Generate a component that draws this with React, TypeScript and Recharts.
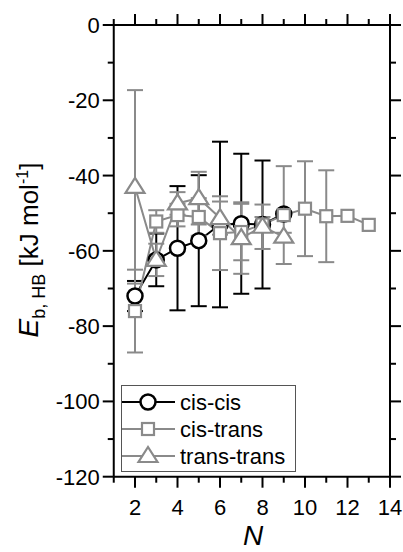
import React from 'react';
import { LineChart, Line, XAxis, YAxis, ErrorBar, Legend } from 'recharts';

const nValues = [2, 3, 4, 5, 6, 7, 8, 9, 10, 11, 12, 13];
const cisCis = [-72, -62.4, -59.3, -57.3, -53, -52.8, -53, -50.2, null, null, null, null];
const cisCisErr = [4, 7, 16.5, 17.4, 22, 18.6, 17, 0, null, null, null, null];
const cisTrans = [-76, -52.2, -50.5, -51, -55.3, -55, -53, -50.5, -48.8, -50.8, -50.7, -53.1];
const cisTransErr = [11, 3, 3, 5, 9.8, 7.5, 2, 13, 12.6, 12.2, 0, 0];
const transTrans = [-43, -62.4, -47.4, -46, -51.3, -56.6, -53.6, -56.2, null, null, null, null];
const transTransErr = [25.7, 4.3, 3, 7, 4.4, 9.5, 5.9, 1, null, null, null, null];

const xMajorTicks = [2, 4, 6, 8, 10, 12, 14];
const xAllTicks = [1, 2, 3, 4, 5, 6, 7, 8, 9, 10, 11, 12, 13, 14];
const yMajorTicks = [-120, -100, -80, -60, -40, -20, 0];
const yAllTicks = [-120, -110, -100, -90, -80, -70, -60, -50, -40, -30, -20, -10, 0];
const seriesNames = ['cis-cis', 'cis-trans', 'trans-trans'];

const data = nValues.map((n, i) => ({
  n,
  cc: cisCis[i],
  ccErr: cisCisErr[i],
  ct: cisTrans[i],
  ctErr: cisTransErr[i],
  tt: transTrans[i],
  ttErr: transTransErr[i],
}));

const BLACK = '#000';
const GRAY = '#8a8a8a';
const FONT = '"Liberation Sans", Arial, sans-serif';
const MAJOR = 11;
const MINOR = 6;

const circleShape = (cx: number, cy: number, key?: any) => (
  <circle key={key} cx={cx} cy={cy} r={7.5} fill="#fff" stroke={BLACK} strokeWidth={2.5} />
);
const squareShape = (cx: number, cy: number, key?: any) => (
  <rect key={key} x={cx - 6} y={cy - 6} width={12} height={12} fill="#fff" stroke={GRAY} strokeWidth={2.2} />
);
const triangleShape = (cx: number, cy: number, key?: any) => (
  <polygon
    key={key}
    points={`${cx},${cy - 9} ${cx - 9.5},${cy + 6} ${cx + 9.5},${cy + 6}`}
    fill="#fff"
    stroke={GRAY}
    strokeWidth={2.2}
  />
);

const makeDot = (shape: (cx: number, cy: number, key?: any) => React.ReactElement) => (props: any) => {
  const { cx, cy, index, value } = props;
  if (cx == null || cy == null || value == null || Number.isNaN(cy)) return <g key={`e${index}`} />;
  return shape(cx, cy, `d${index}`);
};

const BottomTick = (props: any) => {
  const { x, y, payload } = props;
  const major = xMajorTicks.includes(payload.value);
  return (
    <g>
      <line x1={x} y1={y} x2={x} y2={y + (major ? MAJOR : MINOR)} stroke="#000" strokeWidth={2} />
      {major && (
        <text x={x} y={y + 38} textAnchor="middle" fontFamily={FONT} fontSize={22} fill="#000">
          {payload.value}
        </text>
      )}
    </g>
  );
};
const TopTick = (props: any) => {
  const { x, y, payload } = props;
  const major = xMajorTicks.includes(payload.value);
  return <line x1={x} y1={y} x2={x} y2={y - (major ? MAJOR : MINOR)} stroke="#000" strokeWidth={2} />;
};
const LeftTick = (props: any) => {
  const { x, y, payload } = props;
  const major = yMajorTicks.includes(payload.value);
  return (
    <g>
      <line x1={x - (major ? MAJOR : MINOR)} y1={y} x2={x} y2={y} stroke="#000" strokeWidth={2} />
      {major && (
        <text x={x - 14} y={y + 8} textAnchor="end" fontFamily={FONT} fontSize={22} fill="#000">
          {payload.value}
        </text>
      )}
    </g>
  );
};
const RightTick = (props: any) => {
  const { x, y, payload } = props;
  const major = yMajorTicks.includes(payload.value);
  return <line x1={x} y1={y} x2={x + (major ? MAJOR : MINOR)} y2={y} stroke="#000" strokeWidth={2} />;
};

const YLabel = () => (
  <text
    x={38}
    y={250}
    transform="rotate(-90, 38, 250)"
    textAnchor="middle"
    fontFamily={FONT}
    fontSize={26}
    fill="#000"
    style={{ whiteSpace: 'pre' }}
  >
    <tspan fontStyle="italic" fontSize={28}>E</tspan>
    <tspan fontSize={18} dy={7}>b, HB</tspan>
    <tspan dy={-7}> [kJ mol</tspan>
    <tspan fontSize={16} dy={-10}>-1</tspan>
    <tspan dy={10}>]</tspan>
  </text>
);

const XLabel = () => (
  <text x={253} y={545} textAnchor="middle" fontFamily={FONT} fontSize={28} fontStyle="italic" fill="#000">
    N
  </text>
);

const renderLegend = () => {
  const rows = [
    { color: BLACK, shape: circleShape },
    { color: GRAY, shape: squareShape },
    { color: GRAY, shape: triangleShape },
  ];
  return (
    <svg width={176} height={88} style={{ display: 'block' }}>
      <rect x={0.5} y={0.5} width={174} height={86} fill="#fff" stroke="#555" strokeWidth={1} />
      {rows.map((r, i) => {
        const cy = 17 + i * 27;
        return (
          <g key={i}>
            <line x1={1} y1={cy} x2={54} y2={cy} stroke={r.color} strokeWidth={2.2} />
            {r.shape(27, cy)}
            <text x={59} y={cy + 8} fontFamily={FONT} fontSize={22} fill="#000">
              {seriesNames[i]}
            </text>
          </g>
        );
      })}
    </svg>
  );
};

const axisLineStyle = { stroke: '#000', strokeWidth: 2 };

export default function App() {
  return (
    <div style={{ position: 'absolute', left: 0, top: 0, width: 403, height: 552, background: '#fff' }}>
      <LineChart
        width={403}
        height={552}
        data={data}
        margin={{ top: 24, right: 12, bottom: 74.3, left: 112.75 }}
      >
        <XAxis
          xAxisId={0}
          dataKey="n"
          type="number"
          domain={[1, 14]}
          ticks={xAllTicks}
          interval={0}
          allowDataOverflow
          height={1}
          tickSize={0}
          tickMargin={0}
          axisLine={axisLineStyle}
          tickLine={false}
          tick={<BottomTick />}
          label={<XLabel />}
        />
        <XAxis
          xAxisId="top"
          orientation="top"
          dataKey="n"
          type="number"
          domain={[1, 14]}
          ticks={xAllTicks}
          interval={0}
          allowDataOverflow
          height={1}
          tickSize={0}
          tickMargin={0}
          axisLine={axisLineStyle}
          tickLine={false}
          tick={<TopTick />}
        />
        <YAxis
          yAxisId={0}
          type="number"
          domain={[-120, 0]}
          ticks={yAllTicks}
          interval={0}
          allowDataOverflow
          width={1}
          tickSize={0}
          tickMargin={0}
          axisLine={axisLineStyle}
          tickLine={false}
          tick={<LeftTick />}
          label={<YLabel />}
        />
        <YAxis
          yAxisId="right"
          orientation="right"
          type="number"
          domain={[-120, 0]}
          ticks={yAllTicks}
          interval={0}
          allowDataOverflow
          width={1}
          tickSize={0}
          tickMargin={0}
          axisLine={axisLineStyle}
          tickLine={false}
          tick={<RightTick />}
        />
        <Line
          dataKey="cc"
          name="cis-cis"
          stroke={BLACK}
          strokeWidth={2}
          dot={makeDot(circleShape)}
          activeDot={false}
          isAnimationActive={false}
        >
          <ErrorBar dataKey="ccErr" direction="y" width={8} stroke={BLACK} strokeWidth={2} />
        </Line>
        <Line
          dataKey="ct"
          name="cis-trans"
          stroke={GRAY}
          strokeWidth={2}
          dot={makeDot(squareShape)}
          activeDot={false}
          isAnimationActive={false}
        >
          <ErrorBar dataKey="ctErr" direction="y" width={8} stroke={GRAY} strokeWidth={2} />
        </Line>
        <Line
          dataKey="tt"
          name="trans-trans"
          stroke={GRAY}
          strokeWidth={2}
          dot={makeDot(triangleShape)}
          activeDot={false}
          isAnimationActive={false}
        >
          <ErrorBar dataKey="ttErr" direction="y" width={8} stroke={GRAY} strokeWidth={2} />
        </Line>
        <Legend
          layout="vertical"
          align="center"
          verticalAlign="middle"
          content={renderLegend}
          wrapperStyle={{ position: 'absolute', left: 121, top: 385, width: 176, height: 88 }}
        />
      </LineChart>
    </div>
  );
}
